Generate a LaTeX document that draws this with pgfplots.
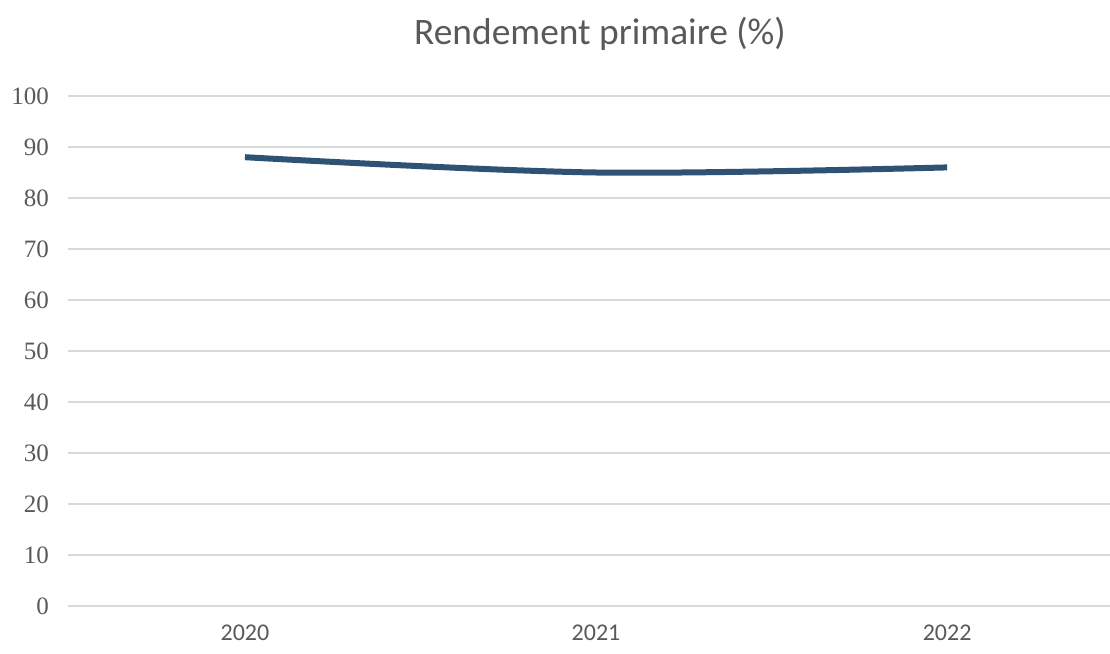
\documentclass[border=0pt]{standalone}
\usepackage{pgfplots}
\pgfplotsset{compat=1.18}
\usepackage{fontspec}
\setmainfont{Carlito}
\newfontfamily\serifnum{Liberation Serif}
\definecolor{txtc}{HTML}{595959}
\definecolor{gridc}{HTML}{D9D9D9}
\definecolor{linec}{HTML}{2E5274}
\begin{document}
\begin{tikzpicture}
\path[use as bounding box] (-34pt,-24pt) rectangle (521pt,303pt);
\begin{axis}[
  scale only axis,
  width=521pt, height=255pt,
  xmin=-0.504, xmax=2.464,
  ymin=0, ymax=100,
  ytick={0,10,...,100},
  xtick={0,1,2},
  xticklabels={2020,2021,2022},
  axis line style={draw=none},
  major tick length=0pt,
  xmajorgrids=false,
  ymajorgrids=true,
  major grid style={draw=gridc, line width=1pt},
  /pgf/number format/assume math mode=true,
  yticklabel style={font=\serifnum\fontsize{12.5}{14}\selectfont, text=txtc, xshift=-6pt},
  xticklabel style={font=\fontsize{12}{14}\selectfont, text=txtc, yshift=-6pt},
]
\addplot[linec, line width=3pt, smooth, tension=0.55] coordinates {(0,88) (1,85) (2,86)};
\end{axis}
\node[anchor=base, font=\fontsize{18.7}{22}\selectfont, text=txtc] at (266pt,280.5pt) {Rendement primaire (\%)};
\end{tikzpicture}
\end{document}
